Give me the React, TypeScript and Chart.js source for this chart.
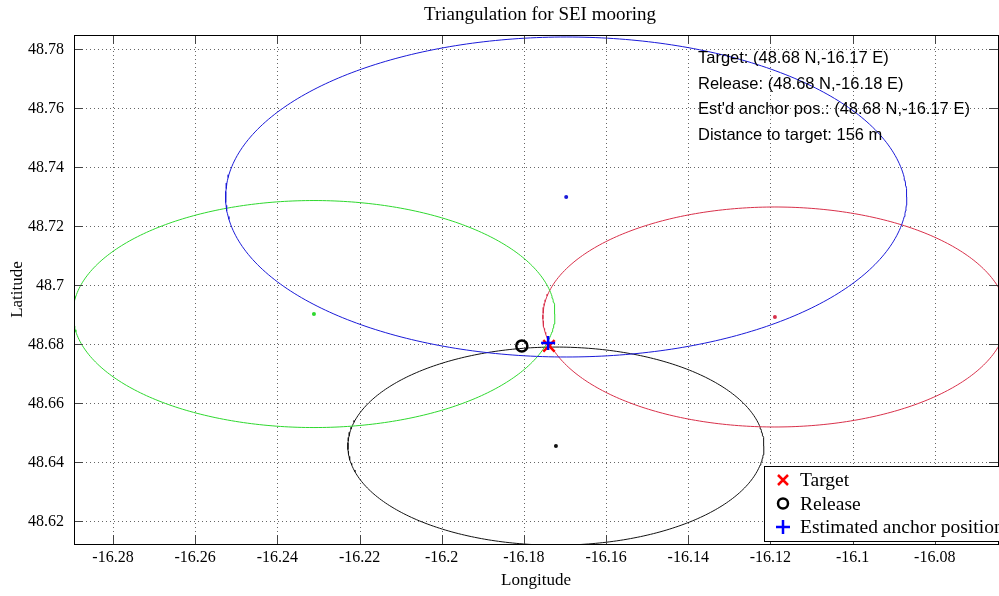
import React, { useEffect, useRef } from "react";
import { Chart, registerables } from "chart.js";

Chart.register(...registerables);

// ---- Data ----
const circleNames = ["Transponder A", "Transponder B", "Transponder C", "Transponder D"];
const circleColors = ["#1a1ad8", "#2ed82e", "#d8304a", "#111111"];
const circleCenterLon = [-16.1697, -16.2311, -16.1189, -16.1722];
const circleCenterLat = [48.7298, 48.6901, 48.6891, 48.6453];
const circleRadiusLon = [0.0829, 0.05867, 0.05648, 0.05064];
const circleRadiusLat = [0.05427, 0.0385, 0.03731, 0.0336];

const targetPos = { lon: -16.1739, lat: 48.6793 };
const releasePos = { lon: -16.1805, lat: 48.6793 };
const anchorPos = { lon: -16.1741, lat: 48.6803 };

const xTicks = [-16.28, -16.26, -16.24, -16.22, -16.2, -16.18, -16.16, -16.14, -16.12, -16.1, -16.08];
const yTicks = [48.62, 48.64, 48.66, 48.68, 48.7, 48.72, 48.74, 48.76, 48.78];
const xTickLabels = ["-16.28", "-16.26", "-16.24", "-16.22", "-16.2", "-16.18", "-16.16", "-16.14", "-16.12", "-16.1", "-16.08"];
const yTickLabels = ["48.62", "48.64", "48.66", "48.68", "48.7", "48.72", "48.74", "48.76", "48.78"];
const xRange = [-16.2895, -16.0646];
const yRange = [48.6121, 48.78475];

const titleText = "Triangulation for SEI mooring";
const xTitle = "Longitude";
const yTitle = "Latitude";
const annotationLines = [
  "Target: (48.68 N,-16.17 E)",
  "Release: (48.68 N,-16.18 E)",
  "Est'd anchor pos.: (48.68 N,-16.17 E)",
  "Distance to target: 156 m",
];
const legendLabels = ["Target", "Release", "Estimated anchor position"];

const SERIF = '"Liberation Serif", "DejaVu Serif", serif';
const SANS = '"Liberation Sans", Arial, sans-serif';

function circlePoints(i: number) {
  const pts: { x: number; y: number }[] = [];
  const n = 360;
  for (let k = 0; k <= n; k++) {
    const t = (k / n) * Math.PI * 2;
    pts.push({
      x: circleCenterLon[i] + circleRadiusLon[i] * Math.cos(t),
      y: circleCenterLat[i] + circleRadiusLat[i] * Math.sin(t),
    });
  }
  return pts;
}

function drawMarker(ctx: CanvasRenderingContext2D, kind: string, x: number, y: number) {
  ctx.save();
  ctx.lineWidth = 2.5;
  ctx.beginPath();
  if (kind === "x") {
    ctx.strokeStyle = "#ff0000";
    ctx.moveTo(x - 5, y - 5);
    ctx.lineTo(x + 5, y + 5);
    ctx.moveTo(x + 5, y - 5);
    ctx.lineTo(x - 5, y + 5);
  } else if (kind === "o") {
    ctx.strokeStyle = "#000000";
    ctx.arc(x, y, 5, 0, Math.PI * 2);
  } else {
    ctx.strokeStyle = "#0000ff";
    ctx.moveTo(x - 7, y);
    ctx.lineTo(x + 7, y);
    ctx.moveTo(x, y - 7);
    ctx.lineTo(x, y + 7);
  }
  ctx.stroke();
  ctx.restore();
}

const framePlugin = {
  id: "frame",
  beforeDatasetsDraw(chart: any) {
    const { ctx, chartArea: a, scales } = chart;
    ctx.save();
    ctx.strokeStyle = "rgba(0,0,0,0.6)";
    ctx.lineWidth = 1;
    ctx.setLineDash([1, 3]);
    ctx.beginPath();
    xTicks.forEach((v) => {
      const px = Math.round(scales.x.getPixelForValue(v)) + 0.5;
      ctx.moveTo(px, a.top);
      ctx.lineTo(px, a.bottom);
    });
    yTicks.forEach((v) => {
      const py = Math.round(scales.y.getPixelForValue(v)) + 0.5;
      ctx.moveTo(a.left, py);
      ctx.lineTo(a.right, py);
    });
    ctx.stroke();
    ctx.restore();
  },
  afterDatasetsDraw(chart: any) {
    const { ctx, chartArea: a, scales } = chart;
    ctx.save();
    // inward tick marks
    ctx.strokeStyle = "#444";
    ctx.lineWidth = 1;
    ctx.beginPath();
    const tl = 9;
    xTicks.forEach((v) => {
      const px = Math.round(scales.x.getPixelForValue(v)) + 0.5;
      ctx.moveTo(px, a.bottom);
      ctx.lineTo(px, a.bottom - tl);
      ctx.moveTo(px, a.top);
      ctx.lineTo(px, a.top + tl);
    });
    yTicks.forEach((v) => {
      const py = Math.round(scales.y.getPixelForValue(v)) + 0.5;
      ctx.moveTo(a.left, py);
      ctx.lineTo(a.left + tl, py);
      ctx.moveTo(a.right, py);
      ctx.lineTo(a.right - tl, py);
    });
    ctx.stroke();
    // box
    ctx.strokeStyle = "#000";
    ctx.strokeRect(Math.round(a.left) + 0.5, Math.round(a.top) + 0.5, Math.round(a.right - a.left), Math.round(a.bottom - a.top));

    // tick labels
    ctx.fillStyle = "#000";
    ctx.font = `16px ${SERIF}`;
    ctx.textAlign = "center";
    ctx.textBaseline = "middle";
    xTicks.forEach((v, i) => {
      ctx.fillText(xTickLabels[i], scales.x.getPixelForValue(v), a.bottom + 14);
    });
    ctx.textAlign = "right";
    yTicks.forEach((v, i) => {
      ctx.fillText(yTickLabels[i], a.left - 10, scales.y.getPixelForValue(v) + 1);
    });

    // annotation text
    ctx.font = `16.5px ${SANS}`;
    ctx.textAlign = "left";
    ctx.textBaseline = "middle";
    annotationLines.forEach((t, i) => {
      ctx.fillText(t, a.left + 624, a.top + 23.5 + i * 25.5);
    });

    // legend
    const lx = 764, ly = 466, lw = 260, lh = 75;
    ctx.fillStyle = "#fff";
    ctx.fillRect(lx, ly, lw, lh);
    ctx.strokeStyle = "#000";
    ctx.lineWidth = 1;
    ctx.strokeRect(lx + 0.5, ly + 0.5, lw, lh);
    const kinds = ["x", "o", "+"];
    ctx.font = `19.5px ${SERIF}`;
    ctx.textBaseline = "middle";
    legendLabels.forEach((t, i) => {
      const cy = ly + 14 + i * 23.5;
      drawMarker(ctx, kinds[i], lx + 19, cy);
      ctx.fillStyle = "#000";
      ctx.fillText(t, lx + 36, cy + 1);
    });

    // title and axis titles
    ctx.fillStyle = "#000";
    ctx.font = `19px ${SERIF}`;
    ctx.textAlign = "center";
    ctx.fillText(titleText, 540, 15);
    ctx.font = `17px ${SERIF}`;
    ctx.fillText(xTitle, 536, 581);
    ctx.save();
    ctx.translate(18, (a.top + a.bottom) / 2);
    ctx.rotate(-Math.PI / 2);
    ctx.fillText(yTitle, 0, 0);
    ctx.restore();
    ctx.restore();
  },
};

export default function App() {
  const ref = useRef<HTMLCanvasElement | null>(null);
  useEffect(() => {
    if (!ref.current) return;
    const circleDatasets = circleNames.map((name, i) => ({
      label: name,
      data: circlePoints(i),
      showLine: true,
      borderColor: circleColors[i],
      borderWidth: 1,
      pointRadius: 0,
      tension: 0,
      order: 10,
    }));
    const centerDatasets = circleNames.map((name, i) => ({
      label: name + " centre",
      data: [{ x: circleCenterLon[i], y: circleCenterLat[i] }],
      pointRadius: 2,
      pointBackgroundColor: circleColors[i],
      pointBorderColor: circleColors[i],
      borderWidth: 0,
      order: 9,
    }));
    const markerDatasets = [
      {
        label: legendLabels[0],
        data: [{ x: targetPos.lon, y: targetPos.lat }],
        pointStyle: "crossRot",
        pointRadius: 8,
        pointBorderWidth: 2.5,
        pointBorderColor: "#ff0000",
        order: 2,
      },
      {
        label: legendLabels[1],
        data: [{ x: releasePos.lon, y: releasePos.lat }],
        pointStyle: "circle",
        pointRadius: 5.5,
        pointBorderWidth: 2.5,
        pointBorderColor: "#000000",
        pointBackgroundColor: "rgba(0,0,0,0)",
        order: 1,
      },
      {
        label: legendLabels[2],
        data: [{ x: anchorPos.lon, y: anchorPos.lat }],
        pointStyle: "cross",
        pointRadius: 7,
        pointBorderWidth: 2.5,
        pointBorderColor: "#0000ff",
        order: 0,
      },
    ];
    const chart = new Chart(ref.current, {
      type: "scatter",
      data: { datasets: [...markerDatasets, ...centerDatasets, ...circleDatasets] as any },
      options: {
        animation: false,
        responsive: false,
        events: [],
        layout: { autoPadding: false, padding: { top: 35, right: 1, left: 0, bottom: 0 } },
        plugins: { legend: { display: false }, tooltip: { enabled: false }, title: { display: false } },
        scales: {
          x: {
            type: "linear",
            min: xRange[0],
            max: xRange[1],
            afterBuildTicks: (s: any) => {
              s.ticks = xTicks.map((v) => ({ value: v }));
            },
            afterFit: (s: any) => {
              s.height = 52;
              s.paddingLeft = 0;
              s.paddingRight = 0;
            },
            ticks: { display: false },
            grid: { display: false, drawTicks: false },
            border: { display: false },
          },
          y: {
            type: "linear",
            min: yRange[0],
            max: yRange[1],
            afterBuildTicks: (s: any) => {
              s.ticks = yTicks.map((v) => ({ value: v }));
            },
            afterFit: (s: any) => {
              s.width = 74;
              s.paddingTop = 0;
              s.paddingBottom = 0;
            },
            ticks: { display: false },
            grid: { display: false, drawTicks: false },
            border: { display: false },
          },
        },
      },
      plugins: [framePlugin],
    });
    return () => chart.destroy();
  }, []);
  return (
    <div style={{ position: "absolute", left: 0, top: 0, width: 999, height: 596, background: "#fff" }}>
      <canvas ref={ref} width={999} height={596} />
    </div>
  );
}
